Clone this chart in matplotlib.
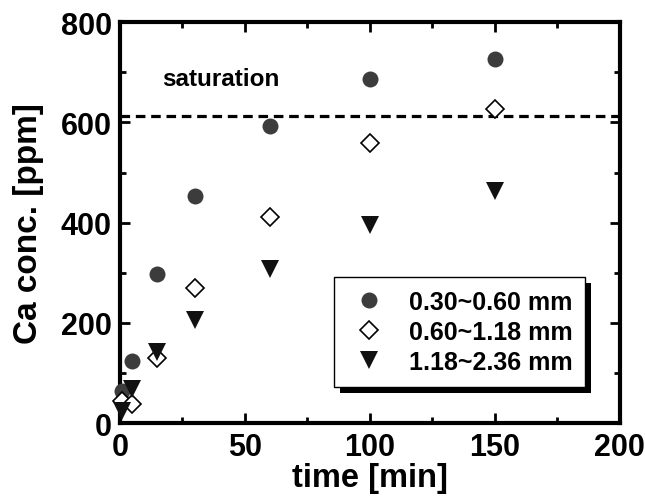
import numpy as np
import matplotlib.pyplot as plt
from matplotlib.patches import Rectangle

plt.rcParams['font.family'] = ['Liberation Sans', 'DejaVu Sans']
plt.rcParams['font.weight'] = 'bold'

# data
time = [1, 5, 15, 30, 60, 100, 150]
fine = [65, 124, 298, 454, 593, 687, 727]       # 0.30~0.60 mm
medium = [45, 38, 130, 270, 411, 559, 626]      # 0.60~1.18 mm
coarse = [25, 68, 142, 205, 308, 396, 464]      # 1.18~2.36 mm
saturation = 612

fig = plt.figure(figsize=(6.45, 5.02), dpi=100)
ax = fig.add_axes([0.186, 0.155, 0.775, 0.799])

ax.plot(time, fine, 'o', color='#3c3c3c', markersize=11.5, markeredgewidth=0,
        label='0.30~0.60 mm', clip_on=False, zorder=3)
ax.plot(time, medium, 'D', markerfacecolor='white', markeredgecolor='black',
        markersize=9, markeredgewidth=1.2, label='0.60~1.18 mm', clip_on=False, zorder=4)
ax.plot(time, coarse, 'v', color='#111111', markersize=13, markeredgewidth=0,
        label='1.18~2.36 mm', clip_on=False, zorder=5)

ax.axhline(saturation, color='black', linestyle=(0, (3.0, 1.8)), linewidth=2.3, zorder=2)
ax.text(17, 688, 'saturation', fontsize=17.5, fontweight='bold', va='center')

ax.set_xlim(0, 200)
ax.set_ylim(0, 800)
ax.set_xticks([0, 50, 100, 150, 200])
ax.set_xticks([25, 75, 125, 175], minor=True)
ax.set_yticks([0, 200, 400, 600, 800])
ax.set_yticks([100, 300, 500, 700], minor=True)
ax.tick_params(which='both', direction='in', top=True, right=True, width=2)
ax.tick_params(which='major', length=7, labelsize=22, pad=6)
ax.tick_params(which='minor', length=4)
for s in ax.spines.values():
    s.set_linewidth(3)

ax.set_xlabel('time [min]', fontsize=23.5, fontweight='bold', labelpad=0)
ax.set_ylabel('Ca conc. [ppm]', fontsize=24, fontweight='bold', labelpad=12)

leg = ax.legend(loc='upper right', bbox_to_anchor=(0.93, 0.364), fontsize=18,
                frameon=True, fancybox=False, edgecolor='black', facecolor='white',
                framealpha=1, borderaxespad=0, handletextpad=0.72, labelspacing=0.25,
                borderpad=0.5, handlelength=1.76)
leg.get_frame().set_linewidth(1)
leg.set_zorder(10)

# black drop shadow behind the legend box
fig.canvas.draw()
bb = leg.get_window_extent().transformed(fig.transFigure.inverted())
dx, dy = 6 / 645, 6 / 502
shadow = Rectangle((bb.x0 + dx, bb.y0 - dy), bb.width, bb.height, transform=fig.transFigure,
                   facecolor='black', edgecolor='none', zorder=9, clip_on=False)
ax.add_patch(shadow)

fig.savefig('out.png', dpi=100)
